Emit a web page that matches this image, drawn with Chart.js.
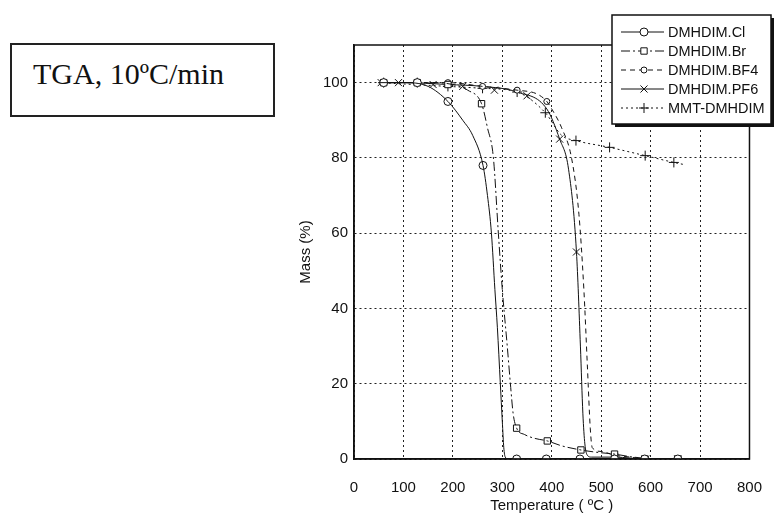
<!DOCTYPE html>
<html>
<head>
<meta charset="utf-8">
<script src="https://cdn.jsdelivr.net/npm/chart.js@4/dist/chart.umd.min.js"></script>
<style>
    body { margin: 0; background: #fff; }
    #wrap { position: relative; width: 782px; height: 519px; }
    #tga_note {
        position: absolute; left: 10px; top: 43px; width: 265px; height: 74px;
        box-sizing: border-box; border: 2px solid #222; background: #fff;
        font-family: "Liberation Serif", "Times New Roman", serif; font-size: 30px;
        line-height: 34px; padding: 12px 0 0 21px; color: #111;
    }
</style>
</head>
<body>
<div id="wrap">
    <canvas id="tga_chart" width="782" height="519"></canvas>
    <div id="tga_note">TGA, 10ºC/min</div>
</div>
<script>
const tga_canvas = document.getElementById("tga_chart");
const tga_context = tga_canvas.getContext("2d");

const x_ticks = [0, 100, 200, 300, 400, 500, 600, 700, 800];
const y_ticks = [0, 20, 40, 60, 80, 100];

// DMHDIM.Cl
const cl_temp = [50, 100, 150, 190, 220, 240, 261, 270, 278, 285, 290, 296, 300, 303, 306, 312, 330, 400, 500, 600, 660];
const cl_mass = [100, 100, 99, 95, 90, 86, 78, 70, 60, 45, 35, 20, 10, 3, 0.5, 0, 0, 0, 0, 0, 0];
const cl_mark_temp = [60, 128, 190, 261, 329, 389, 457, 527, 588, 655];
const cl_mark_mass = [100, 100, 95, 78, 0, 0, 0, 0, 0, 0];

// DMHDIM.Br
const br_temp = [50, 100, 150, 200, 230, 258, 270, 282, 292, 300, 310, 317, 322, 329, 345, 365, 391, 420, 459, 490, 527, 560, 588, 655];
const br_mass = [100, 100, 100, 99.5, 98, 94.4, 88, 80, 60, 45, 30, 19, 12, 8.2, 6.5, 5.5, 4.8, 3.5, 2.4, 1.8, 1.3, 0.6, 0.2, 0];
const br_mark_temp = [60, 128, 190, 258, 329, 391, 459, 527, 588, 655];
const br_mark_mass = [100, 100, 99.5, 94.4, 8.2, 4.8, 2.4, 1.3, 0, 0];

// DMHDIM.BF4
const bf4_temp = [50, 100, 190, 260, 330, 370, 390, 400, 420, 440, 455, 465, 472, 478, 482, 500, 527, 560, 590, 655];
const bf4_mass = [100, 100, 100, 99, 98, 97, 95, 93, 88, 80, 65, 45, 25, 8, 3, 2, 1, 0.5, 0, 0];
const bf4_mark_temp = [60, 128, 190, 260, 330, 390, 527, 590, 655];
const bf4_mark_mass = [100, 100, 100, 99, 98, 95, 1, 0, 0];

// DMHDIM.PF6
const pf6_temp = [50, 100, 190, 260, 330, 390, 416, 434, 450, 458, 463, 467, 472, 480, 527, 590, 655];
const pf6_mass = [100, 100, 99.5, 99, 97.5, 93, 85, 77, 55, 30, 12, 4, 1, 0.5, 0.5, 0, 0];
const pf6_mark_temp = [55, 90, 160, 220, 284, 350, 416, 450, 527, 590, 655];
const pf6_mark_mass = [100, 100, 99.5, 99, 98, 96.5, 85, 55, 0.5, 0, 0];

// MMT-DMHDIM
const mmt_temp = [50, 120, 190, 260, 330, 387, 420, 449, 517, 589, 647, 669];
const mmt_mass = [100, 99.5, 99, 98.5, 97.5, 92, 86, 84.6, 82.8, 80.6, 78.8, 78.2];
const mmt_mark_temp = [60, 128, 190, 260, 330, 387, 449, 517, 589, 647];
const mmt_mark_mass = [100, 100, 99, 98.5, 97.5, 92, 84.6, 82.8, 80.6, 78.8];

const series = [
    { label: "DMHDIM.Cl", temp: cl_temp, mass: cl_mass, mark_temp: cl_mark_temp, mark_mass: cl_mark_mass, dash: [], point_style: "circle", radius: 4 },
    { label: "DMHDIM.Br", temp: br_temp, mass: br_mass, mark_temp: br_mark_temp, mark_mass: br_mark_mass, dash: [9, 3, 2, 3], point_style: "rect", radius: 4.5 },
    { label: "DMHDIM.BF4", temp: bf4_temp, mass: bf4_mass, mark_temp: bf4_mark_temp, mark_mass: bf4_mark_mass, dash: [5, 4], point_style: "circle", radius: 3 },
    { label: "DMHDIM.PF6", temp: pf6_temp, mass: pf6_mass, mark_temp: pf6_mark_temp, mark_mass: pf6_mark_mass, dash: [], point_style: "crossRot", radius: 5 },
    { label: "MMT-DMHDIM", temp: mmt_temp, mass: mmt_mass, mark_temp: mmt_mark_temp, mark_mass: mmt_mark_mass, dash: [2, 3], point_style: "cross", radius: 5 }
];

function toPoints(xs, ys) {
    return xs.map((x, i) => ({ x: x, y: ys[i] }));
}

let datasets = [];
for (let s of series) {
    datasets.push({
        label: s.label,
        data: toPoints(s.temp, s.mass),
        showLine: true,
        borderColor: "#111",
        borderWidth: 1,
        borderDash: s.dash,
        cubicInterpolationMode: "monotone",
        pointRadius: 0
    });
    datasets.push({
        label: s.label + " markers",
        data: toPoints(s.mark_temp, s.mark_mass),
        showLine: false,
        pointStyle: s.point_style,
        pointRadius: s.radius,
        pointBorderColor: "#111",
        pointBackgroundColor: "#fff",
        pointBorderWidth: 1
    });
}

// box round the plot plus the boxed key in the upper right
const frame_and_key = {
    id: "frame_and_key",
    afterDatasetsDraw(chart) {
        let ctx = chart.ctx;
        let area = chart.chartArea;
        ctx.save();
        ctx.setLineDash([]);
        ctx.strokeStyle = "#111";
        ctx.lineWidth = 1.5;
        ctx.strokeRect(area.left, area.top, area.right - area.left, area.bottom - area.top);

        let box_x = 612, box_y = 15, box_w = 159, box_h = 109;
        ctx.fillStyle = "#111";
        ctx.fillRect(box_x + 3, box_y + 3, box_w, box_h);
        ctx.fillStyle = "#fff";
        ctx.fillRect(box_x, box_y, box_w, box_h);
        ctx.lineWidth = 1.5;
        ctx.strokeRect(box_x, box_y, box_w, box_h);

        ctx.font = "14.5px 'Liberation Sans', Arial, sans-serif";
        ctx.textBaseline = "middle";
        series.forEach((s, i) => {
            let row_y = box_y + 17 + i * 19;
            ctx.strokeStyle = "#111";
            ctx.lineWidth = 1;
            ctx.setLineDash(s.dash);
            ctx.beginPath();
            ctx.moveTo(621, row_y);
            ctx.lineTo(664, row_y);
            ctx.stroke();
            ctx.setLineDash([]);
            ctx.fillStyle = "#fff";
            Chart.helpers.drawPoint(ctx, { pointStyle: s.point_style, radius: s.radius, rotation: 0, borderWidth: 1 }, 644, row_y);
            ctx.fillStyle = "#111";
            ctx.fillText(s.label, 668, row_y + 1);
        });
        ctx.restore();
    }
};

const tick_font = { size: 15, family: "'Liberation Sans', Arial, sans-serif" };

new Chart(tga_context, {
    type: "scatter",
    data: { datasets: datasets },
    options: {
        responsive: false,
        animation: false,
        layout: { padding: { left: 293, right: 17, top: 45, bottom: 0 } },
        plugins: { legend: { display: false }, tooltip: { enabled: false } },
        scales: {
            x: {
                type: "linear",
                min: 0,
                max: 800,
                afterBuildTicks: (scale) => { scale.ticks = x_ticks.map(v => ({ value: v })); },
                afterFit: (scale) => { scale.height = 60; },
                ticks: { color: "#111", font: tick_font, padding: 20 },
                grid: { color: "#222", lineWidth: 1, drawTicks: false },
                border: { display: true, color: "#111", width: 1.5, dash: [2, 3] },
                title: { display: true, text: "Temperature ( ºC )", color: "#111", font: tick_font, padding: { top: 4, bottom: 4 } }
            },
            y: {
                type: "linear",
                min: 0,
                max: 110,
                afterBuildTicks: (scale) => { scale.ticks = y_ticks.map(v => ({ value: v })); },
                afterFit: (scale) => { scale.width = 61; },
                ticks: { color: "#111", font: tick_font, padding: 6 },
                grid: { color: "#222", lineWidth: 1, drawTicks: false },
                border: { display: true, color: "#111", width: 1.5, dash: [2, 3] },
                title: { display: true, text: "Mass (%)", color: "#111", font: tick_font, padding: { top: 4, bottom: 4 } }
            }
        }
    },
    plugins: [frame_and_key]
});
</script>
</body>
</html>
